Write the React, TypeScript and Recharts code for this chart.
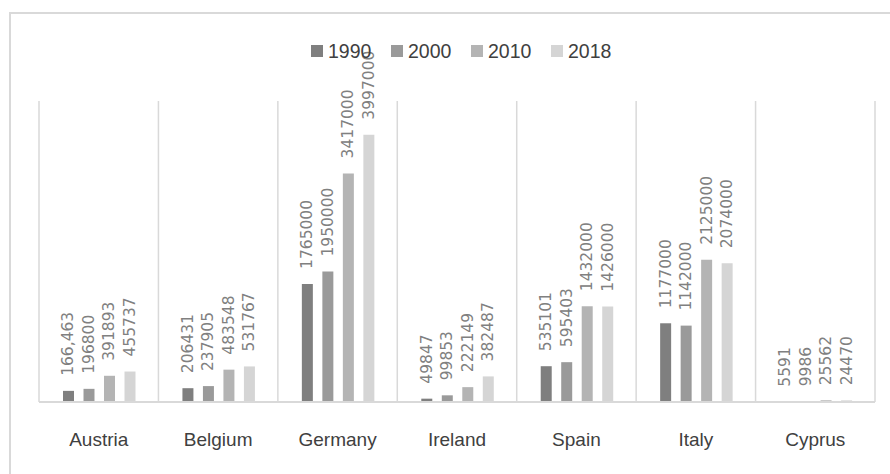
import { BarChart, Bar, XAxis, YAxis, CartesianGrid, LabelList } from 'recharts';

const countries = ['Austria', 'Belgium', 'Germany', 'Ireland', 'Spain', 'Italy', 'Cyprus'];
const y1990 = [166463, 206431, 1765000, 49847, 535101, 1177000, 5591];
const y2000 = [196800, 237905, 1950000, 99853, 595403, 1142000, 9986];
const y2010 = [391893, 483548, 3417000, 222149, 1432000, 2125000, 25562];
const y2018 = [455737, 531767, 3997000, 382487, 1426000, 2074000, 24470];
// one label in the source is written with a thousands separator
const labelOverrides: Record<string, string> = { 'Austria-1990': '166,463' };

const series = [
  { key: '1990', color: '#7f7f7f' },
  { key: '2000', color: '#9a9a9a' },
  { key: '2010', color: '#b4b4b4' },
  { key: '2018', color: '#d5d5d5' },
];

const data = countries.map((c, i) => ({
  country: c,
  '1990': y1990[i],
  '2000': y2000[i],
  '2010': y2010[i],
  '2018': y2018[i],
}));

const GRID = '#d9d9d9';

function makeLabel(key: string) {
  return (props: any) => {
    const { x, y, width, value, index } = props;
    const cx = x + width / 2;
    const cy = y - 15;
    const text = labelOverrides[`${countries[index]}-${key}`] ?? String(value);
    return (
      <text
        x={cx}
        y={cy}
        transform={`rotate(-90, ${cx}, ${cy})`}
        textAnchor="start"
        dominantBaseline="central"
        fontFamily="DejaVu Sans"
        fontSize={15.5}
        fill="#808080"
      >
        {text}
      </text>
    );
  };
}

function LegendBox() {
  return (
    <div style={{ position: 'absolute', left: 311, top: 39, display: 'flex', fontFamily: 'Liberation Sans', fontSize: 19.5, color: '#404040', lineHeight: '24px' }}>
      {series.map((s) => (
        <div key={s.key} style={{ display: 'flex', alignItems: 'center', width: 80 }}>
          <span style={{ width: 12, height: 12, background: s.color, marginRight: 5, display: 'inline-block' }} />
          <span>{s.key}</span>
        </div>
      ))}
    </div>
  );
}

export default function App() {
  return (
    <div style={{ position: 'absolute', left: 0, top: 0, width: 890, height: 474, overflow: 'hidden', background: '#fff' }}>
      <div style={{ position: 'absolute', left: 9, top: 12, width: 920, height: 520, border: `2px solid ${GRID}` }} />
      <div style={{ position: 'absolute', left: 0, top: 0 }}>
        <BarChart
          width={890}
          height={474}
          data={data}
          margin={{ top: 101, right: 15, left: 39, bottom: 0 }}
          barCategoryGap={24}
          barGap={9.5}
        >
          <CartesianGrid
            horizontal={false}
            stroke={GRID}
            strokeWidth={1.5}
            verticalCoordinatesGenerator={({ offset }: any) => {
              const step = offset.width / countries.length;
              return countries.map((_, i) => offset.left + i * step).concat(offset.left + offset.width);
            }}
          />
          <XAxis
            dataKey="country"
            height={72}
            tickLine={false}
            tickMargin={25}
            axisLine={{ stroke: GRID, strokeWidth: 2 }}
            tick={{ fontFamily: 'Liberation Sans', fontSize: 19, fill: '#404040' }}
            interval={0}
          />
          <YAxis hide domain={[0, 4500000]} />
          {series.map((s) => (
            <Bar key={s.key} dataKey={s.key} fill={s.color} isAnimationActive={false}>
              <LabelList dataKey={s.key} content={makeLabel(s.key)} />
            </Bar>
          ))}
        </BarChart>
      </div>
      <LegendBox />
    </div>
  );
}
